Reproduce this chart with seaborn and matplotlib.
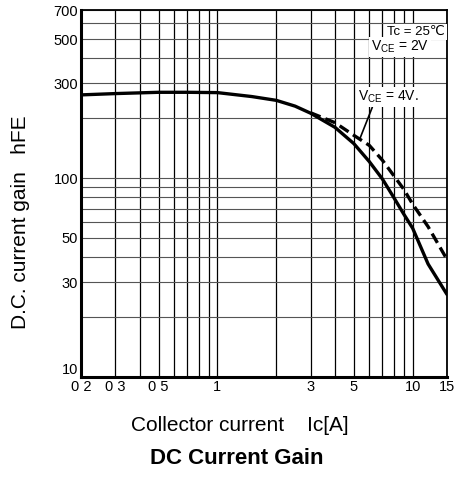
import numpy as np
import pandas as pd
import matplotlib
matplotlib.use("Agg")
import matplotlib.pyplot as plt
import seaborn as sns
from matplotlib.ticker import FixedLocator, NullFormatter

# ---- data ----
ic_2v = [0.2, 0.3, 0.5, 0.7, 1.0, 1.5, 2.0, 2.5, 3.0, 4.0, 5.0, 6.0, 7.0, 8.0, 9.0, 10.0, 12.0, 15.0]
hfe_2v = [262, 266, 270, 270, 269, 257, 246, 230, 212, 180, 149, 121, 99, 80, 66, 56, 37, 26]
ic_4v = [3.0, 4.0, 5.0, 6.0, 7.0, 8.0, 9.0, 10.0, 12.0, 15.0]
hfe_4v = [213, 190, 164, 146, 123, 103, 88, 74, 57, 39]

x_ticks = [0.2, 0.3, 0.5, 1, 3, 5, 10, 15]
x_ticklabels = ["0 2", "0 3", "0 5", "1", "3", "5", "10", "15"]
x_minor = [0.4, 0.6, 0.7, 0.8, 0.9, 2, 4, 6, 7, 8, 9]
y_ticks = [10, 30, 50, 100, 300, 500, 700]
y_ticklabels = ["10", "30", "50", "100", "300", "500", "700"]
y_minor = [20, 40, 60, 70, 80, 90, 200, 400, 600]

df = pd.concat([
    pd.DataFrame({"Ic": ic_2v, "hFE": hfe_2v, "VCE": "2V"}),
    pd.DataFrame({"Ic": ic_4v, "hFE": hfe_4v, "VCE": "4V"}),
])

sns.set_theme(style="white")
plt.rcParams["font.family"] = ["Liberation Sans", "DejaVu Sans"]
plt.rcParams["mathtext.fontset"] = "custom"
plt.rcParams["mathtext.rm"] = "Liberation Sans"
plt.rcParams["mathtext.it"] = "Liberation Sans:italic"

fig = plt.figure(figsize=(4.57, 4.78), dpi=100)
ax = fig.add_axes([81 / 457, 1 - 377 / 478, 366 / 457, 367 / 478])

sns.lineplot(data=df, x="Ic", y="hFE", style="VCE", hue="VCE",
             palette={"2V": "black", "4V": "black"},
             dashes={"2V": "", "4V": (3.2, 1.6)},
             linewidth=2.4, legend=False, ax=ax, zorder=5, sort=True)

ax.set_xscale("log")
ax.set_yscale("log")
ax.set_xlim(0.2, 15)
ax.set_ylim(10, 700)

ax.xaxis.set_major_locator(FixedLocator(x_ticks))
ax.set_xticklabels(x_ticklabels)
ax.xaxis.set_minor_locator(FixedLocator(x_minor))
ax.xaxis.set_minor_formatter(NullFormatter())
ax.yaxis.set_major_locator(FixedLocator(y_ticks))
ax.set_yticklabels(y_ticklabels)
ax.yaxis.set_minor_locator(FixedLocator(y_minor))
ax.yaxis.set_minor_formatter(NullFormatter())

ax.tick_params(axis="both", which="both", length=0, labelsize=10.5, colors="black", pad=2)
ax.get_yticklabels()[0].set_va("bottom")
ax.grid(axis="x", which="both", color="black", linewidth=0.9)
ax.grid(axis="y", which="both", color="#555555", linewidth=0.8)

for side, lw in [("left", 2.2), ("bottom", 2.2), ("top", 1.3), ("right", 1.3)]:
    ax.spines[side].set_visible(True)
    ax.spines[side].set_color("black")
    ax.spines[side].set_linewidth(lw)

ax.set_xlabel("Collector current    Ic[A]", fontsize=15, color="black")
ax.set_ylabel("D.C. current gain   hFE", fontsize=15, color="black")
ax.xaxis.set_label_coords(0.434, -0.106)
ax.yaxis.set_label_coords(-0.139, 0.422)

box = dict(facecolor="white", edgecolor="none", pad=1.5)
ax.text(0.995, 0.940, "Tc = 25℃", transform=ax.transAxes, ha="right", va="center",
        fontsize=9.5, color="black", bbox=box, zorder=6)
ax.text(0.872, 0.899, r"V$_{\mathrm{CE}}$ = 2V", transform=ax.transAxes, ha="center", va="center",
        fontsize=10, color="black", bbox=box, zorder=6)
ax.annotate(r"V$_{\mathrm{CE}}$ = 4V.", xy=(5.37, 158), xytext=(5.25, 256),
            ha="left", va="center", fontsize=10, color="black", bbox=box, zorder=6,
            arrowprops=dict(arrowstyle="-", color="black", lw=1.2,
                            shrinkA=0, shrinkB=0, relpos=(0.25, 0.0)))

fig.text(236.5 / 457, 1 - 458 / 478, "DC Current Gain", ha="center", va="center",
         fontsize=16, fontweight="bold", color="black")

fig.savefig("out.png", dpi=100)
